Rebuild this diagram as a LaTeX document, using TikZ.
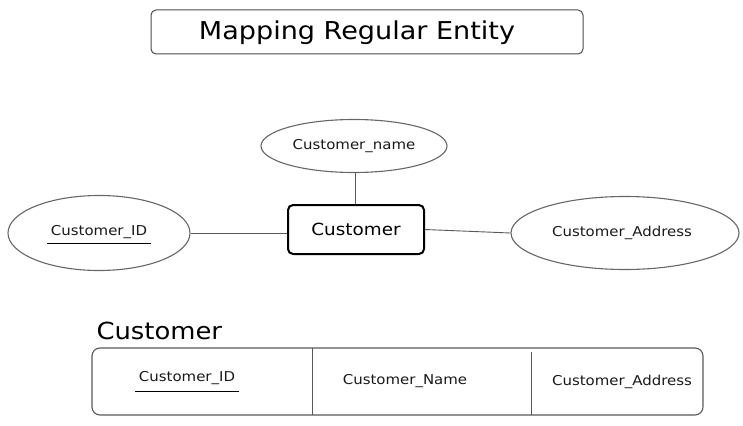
\documentclass[tikz,border=0pt]{standalone}
\usepackage{fontspec}
\setmainfont{DejaVu Sans}[FakeStretch=1.1]
\usetikzlibrary{shapes.geometric}
\tikzset{
  attr/.style={ellipse, draw=black!60, line width=1.1pt, inner sep=0pt},
  lbl/.style={font=\fontsize{13.6}{16}\selectfont, text=black!90},
  conn/.style={draw=black!65, line width=0.9pt},
}
\begin{document}
\begin{tikzpicture}[x=1pt,y=-1pt]
\useasboundingbox (0,0) rectangle (743,425);
% title
\draw[draw=black!70, line width=1pt, rounded corners=5pt] (151,10) rectangle (583,54);
\node[font=\fontsize{24.6}{28}\selectfont] (title) at (357,33) {Mapping Regular Entity};
% ER
\node[attr, minimum width=186pt, minimum height=53pt] (cname) at (354,146) {};
\node[lbl] at (cname) {Customer\_name};
\node[draw=black, line width=2pt, rounded corners=5pt, minimum width=136pt, minimum height=49pt, font=\fontsize{16.7}{20}\selectfont] (cust) at (356,229.5) {Customer};
\node[attr, minimum width=182pt, minimum height=75pt] (cid) at (99,233) {};
\node[lbl] (cidt) at (99,232) {Customer\_ID};
\draw[line width=1.1pt] ([yshift=-1pt]cidt.south west) -- ([yshift=-1pt]cidt.south east);
\node[attr, minimum width=228pt, minimum height=73pt] (caddr) at (625,233) {};
\node[lbl] at (622,233) {Customer\_Address};
\draw[conn] ([xshift=-1pt]cust.north |- cname.south) -- ([xshift=-1pt]cust.north);
\draw[conn] (cid.east) -- (cust.west |- cid.east);
\draw[conn] (cust.east) -- (caddr.west);
% table
\node[anchor=west, font=\fontsize{23.5}{28}\selectfont] (thead) at (93,331) {Customer};
\node[draw=black!65, line width=1.1pt, rounded corners=8pt, minimum width=611pt, minimum height=67pt] (tbl) at (397.5,381.5) {};
\coordinate (d1t) at (312,348); \coordinate (d1b) at (312,415);
\coordinate (d2t) at (531,352); \coordinate (d2b) at (531,415);
\draw[conn] (d1t) -- (d1b);
\draw[conn] (d2t) -- (d2b);
\node[lbl] (tid) at (187,378) {Customer\_ID};
\draw[line width=1.1pt] ([yshift=-3pt]tid.south west) -- ([yshift=-3pt]tid.south east);
\node[lbl] (tname) at (405,381) {Customer\_Name};
\node[lbl] (taddr) at (622,382) {Customer\_Address};
\end{tikzpicture}
\end{document}
